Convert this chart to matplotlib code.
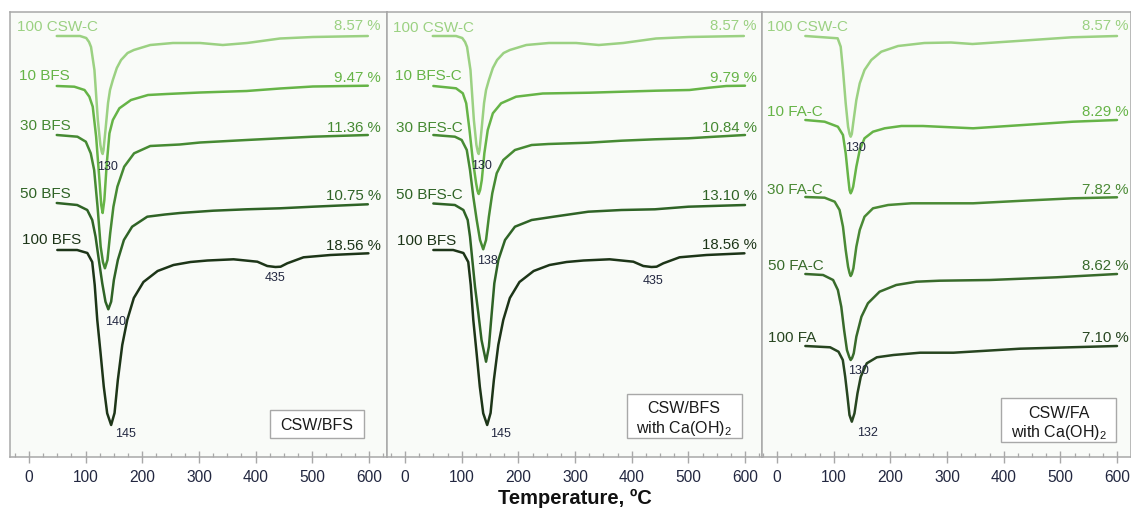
import matplotlib
matplotlib.use("Agg")
import matplotlib.pyplot as plt
from matplotlib.patches import Rectangle
from matplotlib.ticker import MultipleLocator

plt.rcParams['font.family'] = ['Liberation Sans', 'DejaVu Sans']
plt.rcParams['mathtext.fontset'] = 'custom'
plt.rcParams['mathtext.rm'] = 'Liberation Sans'
plt.rcParams['mathtext.it'] = 'Liberation Sans:italic'
plt.rcParams['mathtext.bf'] = 'Liberation Sans:bold'

# ---- DTG curves: temperature (°C) and signal (a.u., 0 = curve start) ----
t_csw = [49, 90, 101, 106, 109.5, 115.5, 121.5, 126, 128.5, 130, 131.5, 135, 139.5, 143, 148,
         155, 162.5, 174, 185, 214, 254, 302, 342, 385, 443, 501, 598]
d_csw = [0, 0, -2, -6, -11, -34, -84, -109, -116, -118, -114, -94, -67, -54, -44,
         -32, -24, -17, -14, -9, -7, -7, -9, -7, -2.5, -1, 0]

t_bfs10 = [49, 80, 98, 106.5, 112.5, 118.5, 124.3, 127.5, 130, 133, 137.3, 142, 148, 159.5,
           180, 210, 243, 302, 384, 443, 501, 598]
d_bfs10 = [0, -0.7, -4, -10.7, -20.7, -50.7, -94, -119, -127, -114, -77.3, -47.3, -34, -22.3,
           -14, -9, -8, -6.5, -5, -2.5, -0.5, 0.3]

t_bfs30 = [49, 85.5, 100.3, 109, 115, 121, 126.5, 130.5, 134, 138.5, 143.3, 149, 156, 168,
           185.5, 214, 266, 302, 384, 443, 501, 598]
d_bfs30 = [0, -1.7, -6.7, -18.3, -35, -71.7, -111.7, -127, -133.3, -125, -98.3, -71.7, -51.7, -31.7,
           -18.3, -11, -9.5, -7.5, -5, -3.3, -1.7, 0]

t_bfs50 = [49, 85, 102.8, 111.6, 117.5, 123.3, 129.3, 135, 140, 145, 149.8, 156.8, 167.5, 182,
           208.7, 240, 266.5, 325, 384, 443, 501, 598]
d_bfs50 = [0, -2, -7, -17, -33.7, -57, -80.3, -98.7, -106.3, -98.7, -77, -57, -37, -23.7,
           -13.7, -11.5, -10, -7.7, -6.3, -5.3, -3.7, -1.3]

t_bfs100 = [50, 85, 103, 111.6, 116, 120.5, 126.3, 132, 138, 145, 151, 156.8, 164.6, 173.4, 185,
            202, 227, 255, 285, 315, 361, 403, 420.5, 435, 444, 455.8, 484.5, 532, 599]
d_bfs100 = [0, 0, -3, -12, -35, -70, -103, -136.7, -163.3, -175, -163, -130, -95, -70, -48,
            -32, -21, -15, -12, -10.5, -9.3, -11.7, -16, -17, -16.7, -13.3, -7.3, -5, -3.3]

t_bfsc10 = [50, 90, 102, 108, 113.8, 119.6, 125.5, 128, 130, 132.5, 135.5, 140, 146, 155, 169.6,
            196, 243, 325.5, 384, 443, 502, 537, 567, 600]
d_bfsc10 = [0, -2.3, -7.3, -17.3, -44, -74, -97.3, -105, -108, -104, -94, -67.3, -44, -27.3, -17.3,
            -10.7, -7.5, -6.7, -5.7, -4.7, -4, -1.7, 0, 0.3]

t_bfsc30 = [50, 88, 100, 109, 114.7, 120.5, 126.5, 132.4, 138, 143, 148, 154, 161.8, 173.5,
            194, 223.5, 253, 323.5, 382, 441, 500, 547, 600]
d_bfsc30 = [0, -1.7, -5, -15, -35, -61.7, -85, -105, -114.3, -105, -81.7, -58.3, -38.3, -25,
            -15, -10, -9, -7.7, -5.7, -4.3, -3.3, -1.7, 0]

t_bfsc50 = [50, 88, 103, 110.6, 114.7, 118.8, 123.5, 129.4, 135, 143, 148, 153, 157.6, 164.7,
            176.5, 194, 223.5, 264.7, 323.5, 382, 441, 500, 600]
d_bfsc50 = [0, -1.5, -6.5, -16.5, -33.2, -56.5, -83.2, -109.8, -136.5, -158.2, -143.2, -109.8, -79.8, -56.5,
            -36.5, -23.2, -16.5, -13, -8.2, -6.5, -5.8, -3.2, -1.5]

t_csw3 = [50, 107, 112.4, 116.4, 121.2, 125.4, 128, 130, 132, 134.4, 140, 146, 154.4, 166.4,
          184, 213.6, 260, 307, 345, 432, 520, 600]
d_csw3 = [0, -2.3, -10.7, -34, -67.3, -90.7, -98, -100.7, -98, -87.3, -64, -47.3, -34, -24,
          -15.7, -10, -7, -6.5, -8, -4.7, -1.3, 0]

t_fac10 = [50, 84, 107.4, 116.4, 121.2, 125.4, 128, 130, 132, 134.4, 140, 146, 154.4, 169.4,
           190, 219.4, 257.4, 346, 434.4, 522, 600]
d_fac10 = [0, -1.7, -6.7, -15, -33.3, -56.7, -70, -73.3, -71, -66.7, -46.7, -30, -18.3, -11.7,
           -8.3, -6, -6, -8.3, -5, -1.7, 0]

t_fac30 = [50, 84, 101.8, 110.4, 116.4, 121.2, 125.4, 128, 130, 132, 134.8, 140, 146, 154.4,
           169.4, 196, 237, 346, 434.4, 522, 600]
d_fac30 = [0, -0.7, -4.7, -13, -29.7, -53, -69.7, -76, -79, -77, -71.3, -49.7, -33, -19.7,
           -11.3, -8, -6.3, -6.3, -3.7, -1.3, -0.3]

t_fac50 = [50, 81.3, 99, 107.4, 113.4, 118.4, 123.4, 127.5, 130, 132.5, 135.4, 140, 149, 160.4,
           181, 210.4, 246, 287, 375.4, 493, 600]
d_fac50 = [0, -1, -6, -16, -32.7, -56, -76, -83, -86, -84, -79.3, -62.7, -42.7, -29.3,
           -17.7, -11, -7.7, -6.7, -6, -3.3, 0]

t_fa100 = [50, 93.8, 108.5, 116.1, 120.3, 124.4, 127.9, 132, 136.7, 142, 147.8, 158.4, 176.1,
           205.5, 252.6, 311.4, 370.2, 429, 517.4, 600]
d_fa100 = [0, -1.3, -5.7, -14, -30.7, -50.7, -69, -75.7, -67.3, -47.3, -30.7, -17.3, -11.3,
           -9, -6.7, -6.7, -4.7, -2.7, -1.3, 0]

# ---- sample names and total mass loss ----
names_p1 = ["100 CSW-C", "10 BFS", "30 BFS", "50 BFS", "100 BFS"]
loss_p1 = ["8.57 %", "9.47 %", "11.36 %", "10.75 %", "18.56 %"]
names_p2 = ["100 CSW-C", "10 BFS-C", "30 BFS-C", "50 BFS-C", "100 BFS"]
loss_p2 = ["8.57 %", "9.79 %", "10.84 %", "13.10 %", "18.56 %"]
names_p3 = ["100 CSW-C", "10 FA-C", "30 FA-C", "50 FA-C", "100 FA"]
loss_p3 = ["8.57 %", "8.29 %", "7.82 %", "8.62 %", "7.10 %"]

titles = ["CSW/BFS", "CSW/BFS\nwith Ca(OH)$_2$", "CSW/FA\nwith Ca(OH)$_2$"]
x_ticks = [0, 100, 200, 300, 400, 500, 600]

# ---- layout / styling ----
colors_bfs = ['#9bd182', '#66b447', '#468a33', '#2f6326', '#1d3518']
colors_fa = ['#9bd182', '#66b447', '#4a8a35', '#386a2b', '#274520']
frame_c = '#a8a8a8'
num_c = '#222740'

W, H = 1131, 511
fig = plt.figure(figsize=(W / 100, H / 100), dpi=100, facecolor='white')

panels = [
    dict(px=(10, 387), xlim=(-33.5, 631.8), colors=colors_bfs,
         curves=[(t_csw, d_csw), (t_bfs10, d_bfs10), (t_bfs30, d_bfs30), (t_bfs50, d_bfs50), (t_bfs100, d_bfs100)],
         offsets=[421, 371, 322, 254, 207], names=names_p1, loss=loss_p1,
         name_pos=[(-20.6, 431), (-17.6, 382), (-15.9, 333), (-15.9, 264), (-12.9, 219)],
         loss_y=[432, 381, 331, 262, 213],
         peaks=[(0, 0, 300, 119.5, 292), (3, 0, 300, 134, 136.3), (4, 0, 300, 151.8, 24.7), (4, 300, 600, 416.5, 180.3)],
         box=(425.3, 19, 165.9, 28), title_y=[33]),
    dict(px=(387, 762), xlim=(-31.8, 630), colors=colors_bfs,
         curves=[(t_csw, d_csw), (t_bfsc10, d_bfsc10), (t_bfsc30, d_bfsc30), (t_bfsc50, d_bfsc50), (t_bfs100, d_bfs100)],
         offsets=[421, 371, 322, 253.5, 207], names=names_p2, loss=loss_p2,
         name_pos=[(-21.7, 430.3), (-17.6, 382), (-15.9, 331), (-15.9, 263.7), (-13.5, 217.7)],
         loss_y=[432, 380.3, 331, 263, 213.7],
         peaks=[(0, 0, 300, 116, 292.7), (2, 0, 300, 126.5, 197.7), (4, 0, 300, 150, 24.3), (4, 300, 600, 420, 177)],
         box=(391.2, 19, 203, 44), title_y=[50, 31]),
    dict(px=(762, 1131), xlim=(-26.5, 624.7), colors=colors_fa,
         curves=[(t_csw3, d_csw3), (t_fac10, d_fac10), (t_fac30, d_fac30), (t_fac50, d_fac50), (t_fa100, d_fa100)],
         offsets=[421, 337, 260, 183, 111], names=names_p3, loss=loss_p3,
         name_pos=[(-18, 431), (-18, 347), (-18, 268.7), (-16.5, 192), (-16.5, 121)],
         loss_y=[432, 347, 268.7, 193, 121],
         peaks=[(0, 0, 300, 120, 310.3), (3, 0, 300, 126, 87.7), (4, 0, 300, 140.6, 26)],
         box=(395.3, 15.3, 202.9, 44), title_y=[45.3, 27]),
]


def peak_temp(t, d, lo, hi):
    """Temperature of the deepest DTG point within [lo, hi]."""
    return min((dv, tv) for tv, dv in zip(t, d) if lo <= tv <= hi)[1]


for p in panels:
    x0, x1 = p['px']
    ax = fig.add_axes([x0 / W, 54 / H, (x1 - x0) / W, 445 / H])
    ax.set_facecolor('#f9fbf8')
    ax.set_xlim(*p['xlim'])
    ax.set_ylim(0, 445)

    for (t, d), off, col in zip(p['curves'], p['offsets'], p['colors']):
        ax.plot(t, [off + v for v in d], color=col, lw=1.8, solid_joinstyle='round',
                solid_capstyle='round')

    for name, (nx, ny), col in zip(p['names'], p['name_pos'], p['colors']):
        ax.text(nx, ny, name, color=col, fontsize=11, ha='left', va='center_baseline')
    for loss, ly, col in zip(p['loss'], p['loss_y'], p['colors']):
        ax.text(620.6, ly, loss, color=col, fontsize=10.8, ha='right', va='center_baseline')

    for ci, lo, hi, lx, ly in p['peaks']:
        t, d = p['curves'][ci]
        ax.text(lx, ly, f"{peak_temp(t, d, lo, hi):g}", color=num_c, fontsize=9,
                ha='left', va='center_baseline')

    bx, by, bw, bh = p['box']
    ax.add_patch(Rectangle((bx, by), bw, bh, facecolor='white', edgecolor=frame_c, lw=1.0, zorder=3))
    for line, ty in zip(titles[panels.index(p)].split('\n'), p['title_y']):
        ax.text(bx + bw / 2, ty, line, color='#1a1a1a', fontsize=11.5, ha='center',
                va='center_baseline', zorder=4)

    for s in ax.spines.values():
        s.set_color(frame_c)
        s.set_linewidth(1.1)
    ax.set_yticks([])
    ax.xaxis.set_major_locator(plt.FixedLocator(x_ticks))
    ax.xaxis.set_minor_locator(MultipleLocator(25))
    ax.tick_params(axis='x', which='major', direction='inout', length=8, width=1.0,
                   color=frame_c, labelcolor=num_c, labelsize=11.2, pad=5)
    ax.tick_params(axis='x', which='minor', direction='in', length=3, width=0.9, color=frame_c)

fig.text(575 / W, 1 - 498 / H, "Temperature, ºC", ha='center', va='center',
         fontsize=14.5, fontweight='bold', color='#111111')

fig.savefig("out.png", dpi=100, facecolor='white')
